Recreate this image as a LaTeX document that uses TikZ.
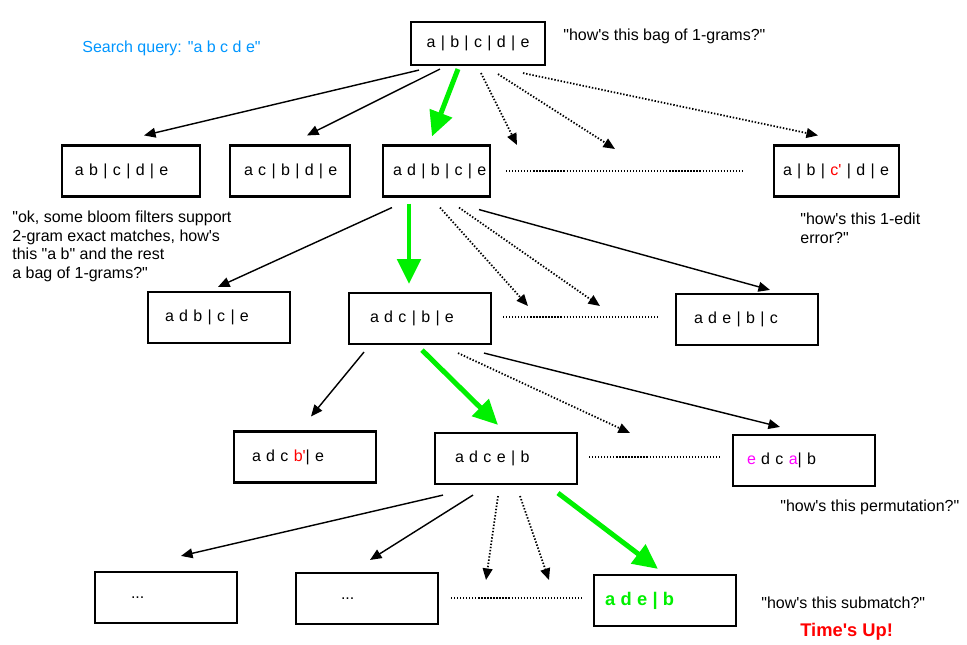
\documentclass[tikz,border=0pt]{standalone}
\usepackage{fontspec}
\setmainfont{Liberation Sans}[Ligatures=TeXOff]
\usetikzlibrary{arrows.meta}

\newlength\pxu
\setlength\pxu{0.5625pt}

\definecolor{query}{RGB}{0,150,255}
\definecolor{hit}{RGB}{0,240,0}
\definecolor{edit}{RGB}{255,0,0}
\definecolor{perm}{RGB}{255,0,255}

\tikzset{
  box/.style 2 args={draw, line width=1.2pt, minimum height=51\pxu, inner xsep=#2\pxu,
    text width=#1\pxu, align=left, font=\fontsize{9}{11}\selectfont,
    execute at begin node={\hbox\bgroup}, execute at end node={\egroup}},
  arr/.style={-{Triangle[length=6.5pt,width=5.5pt]}, line width=0.8pt},
  dots/.style={arr, densely dotted, line width=1pt},
  best/.style={-{Triangle[length=14pt,width=13pt]}, hit, line width=2.8pt},
  gap/.style={densely dotted, line width=0.7pt},
  note/.style={font=\fontsize{9}{10.4}\selectfont, align=left, inner sep=0pt}
}

\begin{document}
\begin{tikzpicture}[x=\pxu, y=-\pxu]
        \useasboundingbox (0,0) rectangle (967,644);

        % boxes
        \node[box={110}{12}, align=center, minimum height=43\pxu] (root) at (478,43.5) {a | b | c | d | e};

        \node[box={112}{13}] (n1a) at (131,171) {a b | c | d | e};
        \node[box={92}{14}] (n1b) at (290,171) {a c | b | d | e};
        \node[box={87}{10}] (n1c) at (436.5,171) {a d | b | c | e};
        \node[box={107}{9}] (n1d) at (836.5,171) {a | b | \textcolor{edit}{c'} | d | e};

        \node[box={108}{17}] (n2a) at (219,317.5) {a d b | c | e};
        \node[box={100}{21}] (n2b) at (420,318.5) {a d c | b | e};
        \node[box={106}{18}] (n2c) at (747,319.5) {a d e | b | c};

        \node[box={106}{18}] (n3a) at (305,457) {a d c \textcolor{edit}{b'}| e};
        \node[box={102}{20}] (n3b) at (506,458.5) {a d c e | b};
        \node[box={114}{14}] (n3c) at (804,460.5) {\textcolor{perm}{e} d c \textcolor{perm}{a}| b};

        \node[box={70}{36}] (n4a) at (166,597.5) {...};
        \node[box={52}{45}] (n4b) at (367,598.5) {...};
        \node[box={120}{11}] (n4c) at (665,600.5) {\fontsize{10.3}{12}\selectfont\bfseries\color{hit}a d e | b};

        % free ends of the dotted arrows
        \coordinate (d1a) at (517,145);
        \coordinate (d1b) at (615,149);
        \coordinate (d2a) at (528,306);
        \coordinate (d2b) at (600,306);
        \coordinate (d3a) at (630,433);
        \coordinate (d4a) at (486,580);
        \coordinate (d4b) at (549,580);

        % level 1
        \draw[arr] ([xshift=-59\pxu,yshift=-4\pxu]root.south) -- ([xshift=13\pxu,yshift=9\pxu]n1a.north);
        \draw[arr] ([xshift=-38\pxu,yshift=-3\pxu]root.south) -- ([xshift=17\pxu,yshift=9\pxu]n1b.north);
        \draw[best] ([xshift=-20\pxu,yshift=-3\pxu]root.south) -- ([xshift=-4.5\pxu,yshift=8\pxu]n1c.north);
        \draw[dots] ([xshift=3\pxu,yshift=-7\pxu]root.south) -- (d1a);
        \draw[dots] ([xshift=20\pxu,yshift=-8\pxu]root.south) -- (d1b);
        \draw[dots] ([xshift=45\pxu,yshift=-7\pxu]root.south) -- ([xshift=-18.5\pxu,yshift=9\pxu]n1d.north);
        \draw[gap] ([xshift=15\pxu]n1c.east) -- ([xshift=-30\pxu]n1d.west);

        % level 2
        \draw[arr] ([xshift=-44.5\pxu,yshift=-10\pxu]n1c.south) -- ([xshift=-1\pxu,yshift=4\pxu]n2a.north);
        \draw[best] ([xshift=-27.5\pxu,yshift=-6\pxu]n1c.south) -- ([xshift=-11\pxu,yshift=8\pxu]n2b.north);
        \draw[dots] ([xshift=3.5\pxu,yshift=-10\pxu]n1c.south) -- (d2a);
        \draw[dots] ([xshift=22.5\pxu,yshift=-10\pxu]n1c.south) -- (d2b);
        \draw[arr] ([xshift=42.5\pxu,yshift=-12\pxu]n1c.south) -- ([xshift=23\pxu,yshift=3\pxu]n2c.north);
        \draw[gap] ([xshift=11\pxu,yshift=1.5\pxu]n2b.east) -- ([xshift=-15\pxu,yshift=2.5\pxu]n2c.west);

        % level 3
        \draw[arr] ([xshift=-56\pxu,yshift=-7\pxu]n2b.south) -- ([xshift=6\pxu,yshift=14\pxu]n3a.north);
        \draw[best] ([xshift=2\pxu,yshift=-5\pxu]n2b.south) -- ([xshift=-8\pxu,yshift=7\pxu]n3b.north);
        \draw[dots] ([xshift=38\pxu,yshift=-8\pxu]n2b.south) -- (d3a);
        \draw[arr] ([xshift=64\pxu,yshift=-8\pxu]n2b.south) -- ([xshift=-24\pxu,yshift=7\pxu]n3c.north);
        \draw[gap] ([xshift=11\pxu,yshift=1.5\pxu]n3b.east) -- ([xshift=-10\pxu,yshift=3.5\pxu]n3c.west);

        % level 4
        \draw[arr] ([xshift=-63\pxu,yshift=-10\pxu]n3b.south) -- ([xshift=15\pxu,yshift=15\pxu]n4a.north);
        \draw[arr] ([xshift=-33\pxu,yshift=-10\pxu]n3b.south) -- ([xshift=3\pxu,yshift=12\pxu]n4b.north);
        \draw[dots] ([xshift=-8\pxu,yshift=-11\pxu]n3b.south) -- (d4a);
        \draw[dots] ([xshift=14\pxu,yshift=-11\pxu]n3b.south) -- (d4b);
        \draw[best] ([xshift=52\pxu,yshift=-8\pxu]n3b.south) -- ([xshift=-7\pxu,yshift=5\pxu]n4c.north);
        \draw[gap] ([xshift=12\pxu,yshift=0.5\pxu]n4b.east) -- ([xshift=-10\pxu,yshift=2.5\pxu]n4c.west);

        % comments
        \node[note, anchor=west, text=query] (query) at (82,48) {Search query: "a b c d e"};
        \node[note, anchor=west] (bag) at (563,36) {"how's this bag of 1-grams?"};
        \node[note, anchor=north west] (bloom) at (12,211) {"ok, some bloom filters support\\2-gram exact matches, how's\\this "a b" and the rest\\a bag of 1-grams?"};
        \node[note, anchor=north west] (oneedit) at (800,213) {"how's this 1-edit\\error?"};
        \node[note, anchor=west] (permq) at (780,507) {"how's this permutation?"};
        \node[note, anchor=west] (subq) at (761,603) {"how's this submatch?"};
        \node[note, anchor=west, text=edit, font=\fontsize{10.3}{12}\selectfont\bfseries] (timeup) at (800,632) {Time's Up!};
    \end{tikzpicture}
\end{document}
